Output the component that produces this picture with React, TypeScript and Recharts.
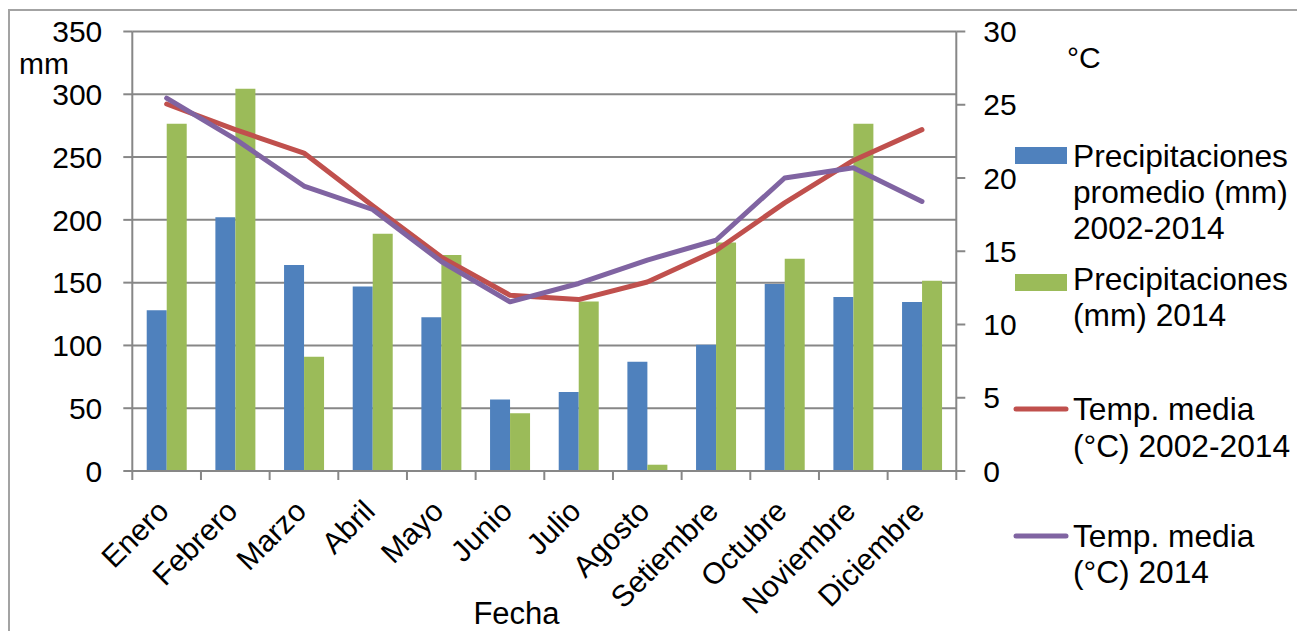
import React from 'react';
import { ComposedChart, Bar, Line, XAxis, YAxis, CartesianGrid } from 'recharts';

const MONTHS = ['Enero', 'Febrero', 'Marzo', 'Abril', 'Mayo', 'Junio', 'Julio', 'Agosto', 'Setiembre', 'Octubre', 'Noviembre', 'Diciembre'];
const PRECIP_AVG = [128, 202, 164, 147, 122.5, 57, 63, 87, 100.5, 149, 138.5, 134.5];
const PRECIP_2014 = [276.5, 304.5, 91, 189, 172, 46, 135, 5, 182, 169, 276.5, 151.5];
const TEMP_AVG = [25.05, 23.3, 21.7, 18.1, 14.6, 12.0, 11.7, 12.9, 15.05, 18.3, 21.2, 23.3];
const TEMP_2014 = [25.45, 22.65, 19.45, 17.85, 14.3, 11.55, 12.8, 14.4, 15.75, 20.0, 20.7, 18.4];
const MM_TICKS = [0, 50, 100, 150, 200, 250, 300, 350];
const C_TICKS = [0, 5, 10, 15, 20, 25, 30];
const SERIES_NAMES = [
  'Precipitaciones promedio (mm) 2002-2014',
  'Precipitaciones (mm) 2014',
  'Temp. media (°C) 2002-2014',
  'Temp. media (°C) 2014',
];
const LEGEND_LINES = [
  ['Precipitaciones', 'promedio (mm)', '2002-2014'],
  ['Precipitaciones', '(mm) 2014'],
  ['Temp. media', '(°C) 2002-2014'],
  ['Temp. media', '(°C) 2014'],
];
const COLORS = ['#4F81BD', '#9BBB59', '#C0504D', '#8064A2'];
const LEFT_UNIT = 'mm';
const RIGHT_UNIT = '°C';
const X_TITLE = 'Fecha';

const data = MONTHS.map((m, i) => ({
  month: m,
  p1: PRECIP_AVG[i],
  p2: PRECIP_2014[i],
  t1: TEMP_AVG[i],
  t2: TEMP_2014[i],
}));

const FONT = "'Liberation Sans', Arial, Helvetica, sans-serif";
const W = 1297;
const H = 631;
const PLOT_LEFT = 132.3;
const PLOT_RIGHT = 956.3;
const PLOT_TOP = 31.5;
const PLOT_BOTTOM = 471;
const LEFT_AXIS_W = 132;
const RIGHT_AXIS_W = 80;
const X_AXIS_H = 60;
const BAND = (PLOT_RIGHT - PLOT_LEFT) / MONTHS.length;
const AXIS_COLOR = '#878787';

const XTick = (props: any) => {
  const { x, y, payload } = props;
  const idx = props.index ?? payload?.index ?? 0;
  const half = BAND / 2;
  const ax = x + 4;
  const ay = y + 42;
  return (
    <g>
      <line x1={x - half} x2={x - half} y1={y} y2={y + 9} stroke={AXIS_COLOR} strokeWidth={2} />
      {idx === MONTHS.length - 1 && (
        <line x1={x + half} x2={x + half} y1={y} y2={y + 9} stroke={AXIS_COLOR} strokeWidth={2} />
      )}
      <text
        x={ax}
        y={ay}
        transform={`rotate(-45, ${ax}, ${ay})`}
        textAnchor="end"
        fontFamily={FONT}
        fontSize={30}
        fill="#000"
      >
        {payload.value}
      </text>
    </g>
  );
};

const legendY = [
  { swatch: 155.5, base: [166.7, 202.9, 239.2] },
  { swatch: 282.5, base: [290, 326.3] },
  { swatch: 409, base: [420, 456.5] },
  { swatch: 536, base: [546.7, 583.2] },
];

export default function App() {
  return (
    <div style={{ position: 'absolute', left: 0, top: 0, width: W, height: H, overflow: 'hidden', background: '#fff' }}>
      <div
        style={{
          position: 'absolute',
          left: 8,
          top: 9,
          width: W - 8,
          height: H - 9,
          borderTop: '2px solid #a3a3a3',
          borderLeft: '2px solid #a3a3a3',
          boxSizing: 'border-box',
        }}
      />
      <div style={{ position: 'absolute', left: 0, top: 0 }}>
        <ComposedChart
          width={W}
          height={H}
          data={data}
          margin={{
            top: PLOT_TOP,
            left: PLOT_LEFT - LEFT_AXIS_W,
            right: W - PLOT_RIGHT - RIGHT_AXIS_W,
            bottom: H - PLOT_BOTTOM - X_AXIS_H,
          }}
          barCategoryGap="21%"
          barGap={0}
        >
          <CartesianGrid yAxisId="mm" vertical={false} stroke={AXIS_COLOR} strokeWidth={2} />
          <XAxis
            dataKey="month"
            interval={0}
            height={X_AXIS_H}
            tickLine={false}
            tickSize={0}
            tickMargin={0}
            axisLine={{ stroke: AXIS_COLOR, strokeWidth: 2 }}
            tick={<XTick />}
          />
          <YAxis
            yAxisId="mm"
            orientation="left"
            width={LEFT_AXIS_W}
            domain={[0, 350]}
            ticks={MM_TICKS}
            interval={0}
            tickSize={9}
            tickMargin={21}
            axisLine={{ stroke: AXIS_COLOR, strokeWidth: 2 }}
            tickLine={{ stroke: AXIS_COLOR, strokeWidth: 2 }}
            tick={{ fontFamily: FONT, fontSize: 30, fill: '#000' }}
          />
          <YAxis
            yAxisId="t"
            orientation="right"
            width={RIGHT_AXIS_W}
            domain={[0, 30]}
            ticks={C_TICKS}
            interval={0}
            tickSize={9}
            tickMargin={18}
            axisLine={{ stroke: AXIS_COLOR, strokeWidth: 2 }}
            tickLine={{ stroke: AXIS_COLOR, strokeWidth: 2 }}
            tick={{ fontFamily: FONT, fontSize: 30, fill: '#000', textAnchor: 'start' }}
          />
          <Bar yAxisId="mm" dataKey="p1" name={SERIES_NAMES[0]} fill={COLORS[0]} isAnimationActive={false} />
          <Bar yAxisId="mm" dataKey="p2" name={SERIES_NAMES[1]} fill={COLORS[1]} isAnimationActive={false} />
          <Line
            yAxisId="t"
            type="linear"
            dataKey="t1"
            name={SERIES_NAMES[2]}
            stroke={COLORS[2]}
            strokeWidth={5}
            strokeLinecap="round"
            strokeLinejoin="round"
            dot={false}
            activeDot={false}
            isAnimationActive={false}
          />
          <Line
            yAxisId="t"
            type="linear"
            dataKey="t2"
            name={SERIES_NAMES[3]}
            stroke={COLORS[3]}
            strokeWidth={5}
            strokeLinecap="round"
            strokeLinejoin="round"
            dot={false}
            activeDot={false}
            isAnimationActive={false}
          />
        </ComposedChart>
      </div>
      <svg
        width={W}
        height={H}
        style={{ position: 'absolute', left: 0, top: 0, pointerEvents: 'none' }}
        fontFamily={FONT}
      >
        <text x={19} y={74} fontSize={30} fill="#000">{LEFT_UNIT}</text>
        <text x={1067} y={68} fontSize={30} fill="#000">{RIGHT_UNIT}</text>
        <text x={516.5} y={623.5} fontSize={31} fill="#000" textAnchor="middle">{X_TITLE}</text>
        {LEGEND_LINES.map((lines, i) => (
          <g key={i}>
            {i < 2 ? (
              <rect x={1015} y={legendY[i].swatch - 8.5} width={52} height={17} fill={COLORS[i]} />
            ) : (
              <line
                x1={1016}
                x2={1066}
                y1={legendY[i].swatch}
                y2={legendY[i].swatch}
                stroke={COLORS[i]}
                strokeWidth={5}
                strokeLinecap="round"
              />
            )}
            {lines.map((ln, j) => (
              <text key={j} x={1073} y={legendY[i].base[j]} fontSize={31.7} fill="#000">
                {ln}
              </text>
            ))}
          </g>
        ))}
      </svg>
    </div>
  );
}
